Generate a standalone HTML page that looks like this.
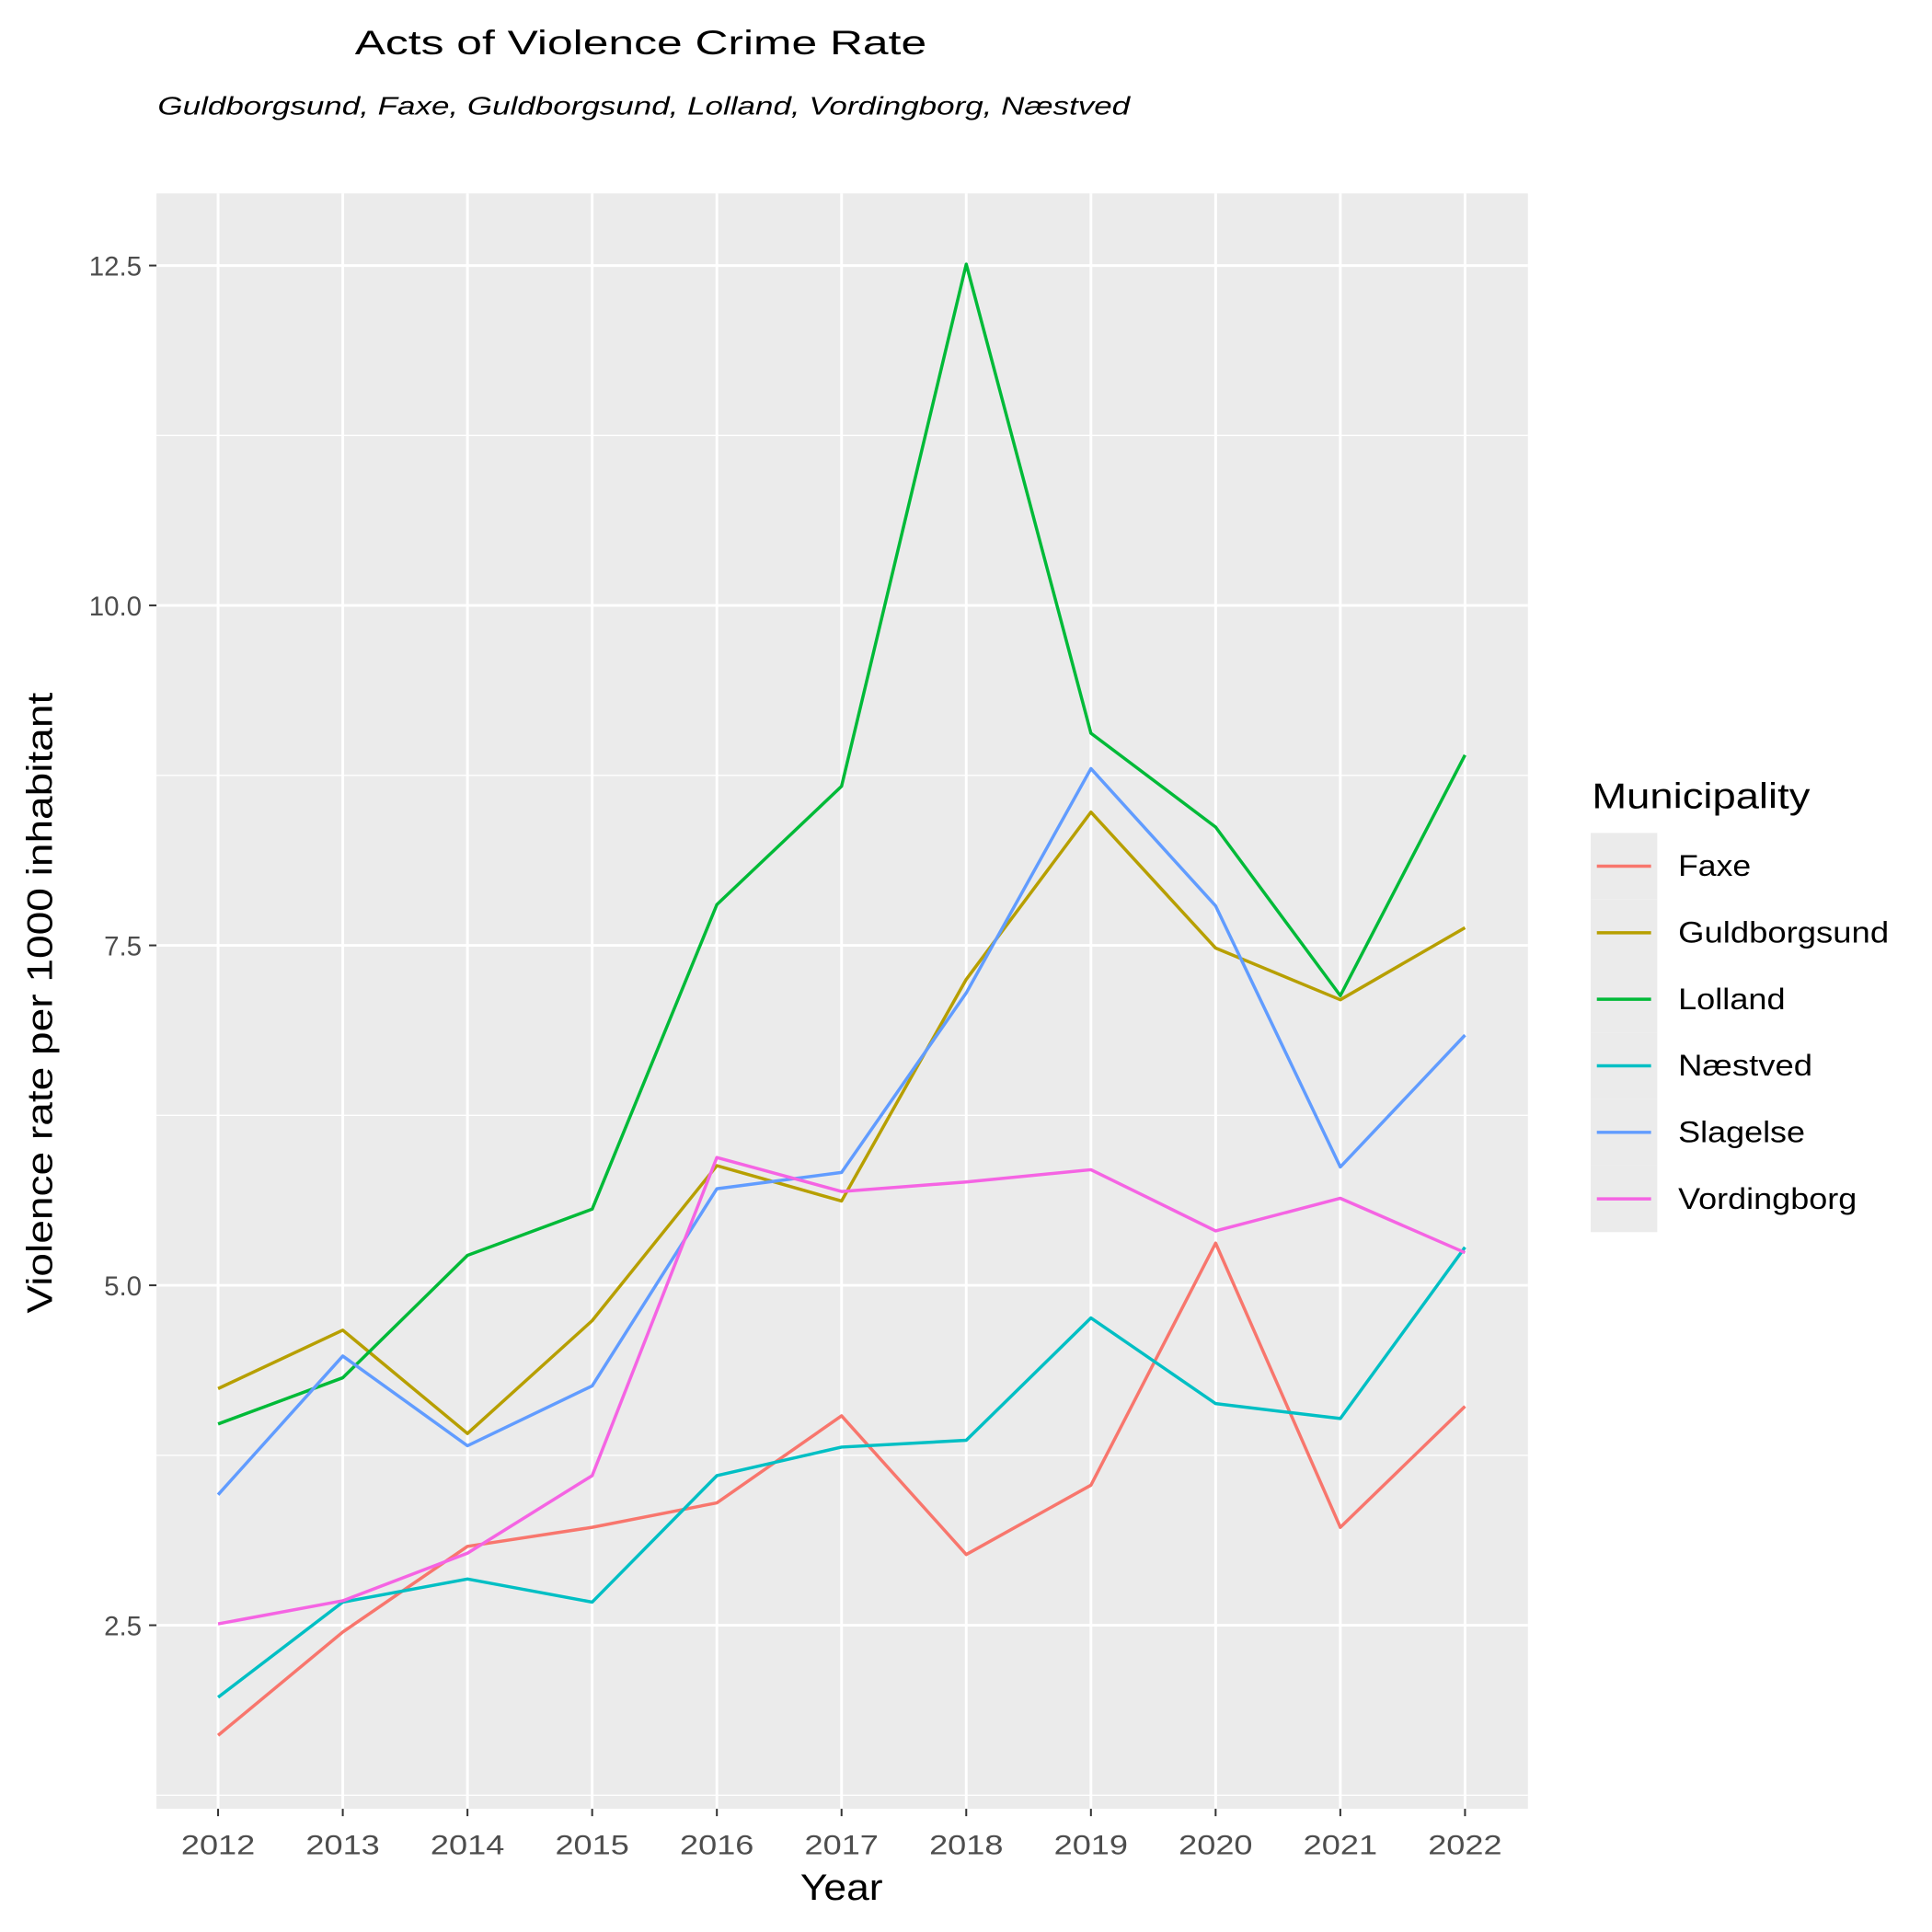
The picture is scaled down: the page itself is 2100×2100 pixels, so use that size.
<!DOCTYPE html>
<html><head><meta charset="utf-8"><style>
html,body{margin:0;padding:0;background:#fff;}
svg{display:block;font-family:"Liberation Sans",Arial,sans-serif;}
</style></head><body>
<svg id="chart" width="2100" height="2100" viewBox="0 0 1568 1568">
<rect x="0" y="0" width="1568" height="1568" fill="#fff"/>
<text x="288" y="44" font-size="27.5" fill="#000" textLength="464" lengthAdjust="spacingAndGlyphs">Acts of Violence Crime Rate</text>
<text x="128" y="93" font-size="21" font-style="italic" fill="#000" textLength="789" lengthAdjust="spacingAndGlyphs">Guldborgsund, Faxe, Guldborgsund, Lolland, Vordingborg, Næstved</text>
<rect x="127" y="157" width="1113" height="1311" fill="#ebebeb"/>
<g id="grid"></g><g id="series"></g><g id="axes"></g>
<text x="683" y="1542" font-size="30" text-anchor="middle" fill="#000" textLength="67" lengthAdjust="spacingAndGlyphs">Year</text>
<text transform="translate(42,814) rotate(-90)" font-size="29" text-anchor="middle" fill="#000" textLength="504" lengthAdjust="spacingAndGlyphs">Violence rate per 1000 inhabitant</text>
<g id="legend"></g>
</svg>
<script>
const years=[2012,2013,2014,2015,2016,2017,2018,2019,2020,2021,2022];
const names=["Faxe","Guldborgsund","Lolland","Næstved","Slagelse","Vordingborg"];
const colors=["#F8766D","#B79F00","#00BA38","#00BFC4","#619CFF","#F564E3"];
const faxe=[1.69,2.45,3.08,3.22,3.40,4.04,3.02,3.53,5.31,3.22,4.11];
const guldborgsund=[4.24,4.67,3.91,4.74,5.88,5.62,7.25,8.48,7.48,7.10,7.63];
const lolland=[3.98,4.32,5.22,5.56,7.80,8.67,12.51,9.06,8.37,7.13,8.90];
const naestved=[1.97,2.67,2.84,2.67,3.60,3.81,3.86,4.76,4.13,4.02,5.28];
const slagelse=[3.46,4.48,3.82,4.26,5.71,5.83,7.15,8.80,7.79,5.87,6.84];
const vordingborg=[2.51,2.68,3.03,3.60,5.94,5.69,5.76,5.85,5.40,5.64,5.24];
const yTicks=[2.5,5.0,7.5,10.0,12.5];
const yTickLabels=["2.5","5.0","7.5","10.0","12.5"];
const yMinor=[1.25,3.75,6.25,8.75,11.25];
const allSeries=[faxe,guldborgsund,lolland,naestved,slagelse,vordingborg];
const NS="http://www.w3.org/2000/svg";
const px0=127,px1=1240,py0=157,py1=1468;
const yMin=1.15,yMax=13.03;
const x=v=>177+(v-years[0])*(1189-177)/(years[years.length-1]-years[0]);
const y=v=>py1-(v-yMin)/(yMax-yMin)*(py1-py0);
function mk(tag,attrs,parent){const e=document.createElementNS(NS,tag);for(const k in attrs)e.setAttribute(k,attrs[k]);parent.appendChild(e);return e;}
const grid=document.getElementById('grid'),axes=document.getElementById('axes'),ser=document.getElementById('series'),leg=document.getElementById('legend');
yMinor.forEach(v=>{const l=mk('line',{x1:px0,x2:px1,y1:y(v),y2:y(v),stroke:'#fff','stroke-width':1},grid);

});
yTicks.forEach((v,i)=>{const l=mk('line',{x1:px0,x2:px1,y1:y(v),y2:y(v),stroke:'#fff','stroke-width':2.2},grid);


const t=mk('line',{x1:121,x2:127,y1:y(v),y2:y(v),stroke:'#333','stroke-width':1.5},axes);


const tx=mk('text',{x:115,y:y(v)+8,'font-size':22,'text-anchor':'end',fill:'#4d4d4d'},axes);tx.textContent=yTickLabels[i];

});
years.forEach(yr=>{const l=mk('line',{x1:x(yr),x2:x(yr),y1:py0,y2:py1,stroke:'#fff','stroke-width':2.2},grid);


const t=mk('line',{x1:x(yr),x2:x(yr),y1:py1,y2:py1+6,stroke:'#333','stroke-width':1.5},axes);


const tx=mk('text',{x:x(yr),y:1505,'font-size':22,'text-anchor':'middle',fill:'#4d4d4d',textLength:60,lengthAdjust:'spacingAndGlyphs'},axes);tx.textContent=yr;

});
allSeries.forEach((s,i)=>{const p=mk('polyline',{points:s.map((v,j)=>x(years[j])+','+y(v)).join(' '),fill:'none',stroke:colors[i],'stroke-width':2.6,'stroke-linejoin':'round'},ser);

});
const lt=mk('text',{x:1292,y:656,'font-size':29,fill:'#000',textLength:177,lengthAdjust:'spacingAndGlyphs'},leg);lt.textContent='Municipality';


const labW=[59,171,87,109,103,145];
names.forEach((n,i)=>{const cy=703+i*54;
const g=mk('g',{},leg);


mk('rect',{x:1291,y:cy-27,width:54,height:54,fill:'#ebebeb'},g);
mk('line',{x1:1296,x2:1340,y1:cy,y2:cy,stroke:colors[i],'stroke-width':2.6},g);
const t=mk('text',{x:1362,y:cy+8,'font-size':24,fill:'#000',textLength:labW[i],lengthAdjust:'spacingAndGlyphs'},g);t.textContent=n;});
</script>
</body></html>
